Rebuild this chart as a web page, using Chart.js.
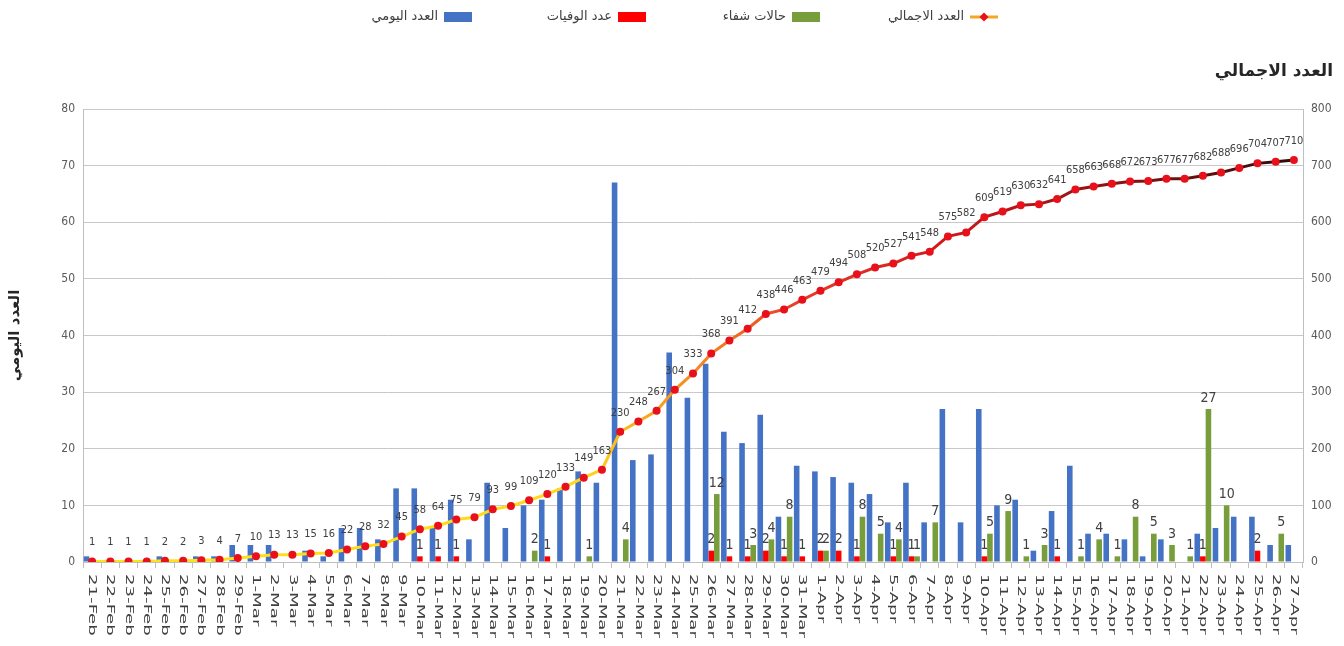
<!DOCTYPE html>
<html>
<head>
<meta charset="utf-8">
<script src="https://cdn.jsdelivr.net/npm/chart.js@4.4.1/dist/chart.umd.min.js"></script>
<style>
html,body{margin:0;padding:0;background:#ffffff;}
#wrap{width:1344px;height:646px;position:relative;}
</style>
</head>
<body>
<div id="wrap"><canvas id="c" width="1344" height="646"></canvas></div>
<script>
const categories = [
  '21-Feb','22-Feb','23-Feb','24-Feb','25-Feb','26-Feb','27-Feb','28-Feb','29-Feb',
  '1-Mar','2-Mar','3-Mar','4-Mar','5-Mar','6-Mar','7-Mar','8-Mar','9-Mar','10-Mar',
  '11-Mar','12-Mar','13-Mar','14-Mar','15-Mar','16-Mar','17-Mar','18-Mar','19-Mar','20-Mar',
  '21-Mar','22-Mar','23-Mar','24-Mar','25-Mar','26-Mar','27-Mar','28-Mar','29-Mar','30-Mar','31-Mar',
  '1-Apr','2-Apr','3-Apr','4-Apr','5-Apr','6-Apr','7-Apr','8-Apr','9-Apr','10-Apr',
  '11-Apr','12-Apr','13-Apr','14-Apr','15-Apr','16-Apr','17-Apr','18-Apr','19-Apr','20-Apr',
  '21-Apr','22-Apr','23-Apr','24-Apr','25-Apr','26-Apr','27-Apr'
];
const dailyCases = [
  1,0,0,0,1,0,1,1,3,
  3,3,0,2,1,6,6,4,13,13,6,11,4,14,6,10,11,13,16,14,67,18,19,37,29,35,23,21,26,8,17,
  16,15,14,12,7,14,7,27,7,27,10,11,2,9,17,5,5,4,1,4,0,5,6,8,8,3,3
];
const deaths = [
  0,0,0,0,0,0,0,0,0,
  0,0,0,0,0,0,0,0,0,1,1,1,0,0,0,0,1,0,0,0,0,0,0,0,0,2,1,1,2,1,1,
  2,2,1,0,1,1,0,0,0,1,0,0,0,1,0,0,0,0,0,0,0,1,0,0,2,0,0
];
const recovered = [
  0,0,0,0,0,0,0,0,0,
  0,0,0,0,0,0,0,0,0,0,0,0,0,0,0,2,0,0,1,0,4,0,0,0,0,12,0,3,4,8,0,
  2,0,8,5,4,1,7,0,0,5,9,1,3,0,1,4,1,8,5,3,1,27,10,0,0,5,0
];
const cumulative = [
  1,1,1,1,2,2,3,4,7,
  10,13,13,15,16,22,28,32,45,58,64,75,79,93,99,109,120,133,149,163,230,248,267,304,333,368,391,412,438,446,463,
  479,494,508,520,527,541,548,575,582,609,619,630,632,641,658,663,668,672,673,677,677,682,688,696,704,707,710
];
const leftTicks = {min: 0, max: 80, step: 10};
const rightTicks = {min: 0, max: 800, step: 100};
const seriesNames = ['العدد اليومي', 'عدد الوفيات', 'حالات شفاء', 'العدد الاجمالي'];
const leftTitle = 'العدد اليومي';
const rightTitle = 'العدد الاجمالي';

const FONT_NUM = '"DejaVu Sans Condensed", "Liberation Sans Narrow", "DejaVu Sans", sans-serif';
const FONT_AR = '"DejaVu Sans", sans-serif';
const COLORS = ['#4472C4', '#FF0000', '#789E3C'];

function lineGradient(context) {
  const chart = context.chart;
  const ca = chart.chartArea;
  if (!ca) return '#F5A623';
  const g = chart.ctx.createLinearGradient(ca.left, 0, ca.right, 0);
  g.addColorStop(0.00, '#FFE21C');
  g.addColorStop(0.41, '#FFD81A');
  g.addColorStop(0.46, '#F8A81E');
  g.addColorStop(0.52, '#F47A22');
  g.addColorStop(0.58, '#E8402A');
  g.addColorStop(0.70, '#D21A1A');
  g.addColorStop(0.86, '#861212');
  g.addColorStop(1.00, '#2A0A0A');
  return g;
}

const decorPlugin = {
  id: 'decor',
  afterDatasetsDraw(chart) {
    const ctx = chart.ctx;
    ctx.save();
    ctx.fillStyle = '#404040';
    ctx.textAlign = 'center';
    ctx.textBaseline = 'middle';
    ctx.font = '14px ' + FONT_NUM;
    [1, 2].forEach(di => {
      const meta = chart.getDatasetMeta(di);
      const data = chart.data.datasets[di].data;
      meta.data.forEach((el, i) => {
        if (!data[i]) return;
        ctx.fillText(String(data[i]), el.x, el.y - 11);
      });
    });
    ctx.font = '11px ' + FONT_NUM;
    const lm = chart.getDatasetMeta(3);
    const ld = chart.data.datasets[3].data;
    lm.data.forEach((pt, i) => {
      ctx.fillText(String(ld[i]), pt.x, pt.y - 19);
    });
    ctx.restore();
  },
  afterDraw(chart) {
    const ctx = chart.ctx;
    const xs = chart.scales.x;
    ctx.save();
    ctx.fillStyle = '#404040';
    ctx.font = '11px "DejaVu Sans", sans-serif';
    ctx.textAlign = 'left';
    ctx.textBaseline = 'middle';
    chart.data.labels.forEach((lab, i) => {
      const x = xs.getPixelForTick(i);
      ctx.save();
      ctx.translate(x, xs.top + 12);
      ctx.rotate(Math.PI / 2);
      ctx.scale(1.65, 1);
      ctx.fillText(lab, 0, 0);
      ctx.restore();
    });
    ctx.fillStyle = '#262626';
    ctx.font = 'bold 17px ' + FONT_AR;
    ctx.textAlign = 'right';
    ctx.textBaseline = 'middle';
    ctx.fillText(rightTitle, 1333, 72);
    const centers = [426, 600, 774, 952];
    ctx.font = '13px ' + FONT_AR;
    ctx.textBaseline = 'middle';
    chart.data.datasets.forEach((ds, i) => {
      const boxRight = centers[i] + 46;
      const boxLeft = boxRight - 28;
      const cy = 17;
      if (i < 3) {
        ctx.fillStyle = COLORS[i];
        ctx.fillRect(boxLeft, cy - 5, 28, 10);
      } else {
        ctx.strokeStyle = '#F5A623';
        ctx.lineWidth = 3;
        ctx.beginPath();
        ctx.moveTo(boxLeft, cy);
        ctx.lineTo(boxRight, cy);
        ctx.stroke();
        ctx.fillStyle = '#E8101A';
        const mx = (boxLeft + boxRight) / 2;
        ctx.beginPath();
        ctx.moveTo(mx, cy - 4.5);
        ctx.lineTo(mx + 4.5, cy);
        ctx.lineTo(mx, cy + 4.5);
        ctx.lineTo(mx - 4.5, cy);
        ctx.closePath();
        ctx.fill();
      }
      ctx.fillStyle = '#404040';
      ctx.textAlign = 'right';
      ctx.fillText(ds.label, boxLeft - 6, cy);
    });
    ctx.restore();
  }
};

const barCommon = {type: 'bar', yAxisID: 'y', categoryPercentage: 0.92, barPercentage: 1.0, borderWidth: 0};

new Chart(document.getElementById('c').getContext('2d'), {
  data: {
    labels: categories,
    datasets: [
      Object.assign({label: seriesNames[0], data: dailyCases, backgroundColor: COLORS[0]}, barCommon),
      Object.assign({label: seriesNames[1], data: deaths, backgroundColor: COLORS[1]}, barCommon),
      Object.assign({label: seriesNames[2], data: recovered, backgroundColor: COLORS[2]}, barCommon),
      {
        type: 'line', label: seriesNames[3], data: cumulative, yAxisID: 'y1', order: -1,
        borderColor: lineGradient, borderWidth: 3, tension: 0, fill: false,
        pointRadius: 4, pointBackgroundColor: '#E8101A', pointBorderWidth: 0, pointHoverRadius: 4
      }
    ]
  },
  options: {
    responsive: false,
    animation: false,
    devicePixelRatio: 1,
    layout: {padding: {top: 109, left: 0, right: 0, bottom: 0}},
    scales: {
      x: {
        type: 'category',
        grid: {display: true, drawOnChartArea: false, drawTicks: true, tickLength: 6, color: '#bfbfbf', offset: true},
        border: {display: true, color: '#bfbfbf'},
        ticks: {display: false},
        afterFit(s) { s.height = 84; }
      },
      y: {
        position: 'left', min: leftTicks.min, max: leftTicks.max,
        ticks: {stepSize: leftTicks.step, color: '#595959', font: {size: 12, family: FONT_NUM}, padding: 8},
        grid: {color: '#c8c8c8', drawTicks: false},
        border: {display: true, color: '#bfbfbf'},
        title: {display: true, text: leftTitle, color: '#262626', font: {size: 15, weight: 'bold', family: FONT_AR}, padding: {top: 6, bottom: 6}},
        afterFit(s) { s.width = 83; }
      },
      y1: {
        position: 'right', min: rightTicks.min, max: rightTicks.max,
        ticks: {stepSize: rightTicks.step, color: '#595959', font: {size: 12, family: FONT_NUM}, padding: 8},
        grid: {drawOnChartArea: false, drawTicks: false},
        border: {display: true, color: '#bfbfbf'},
        afterFit(s) { s.width = 41; }
      }
    },
    plugins: {
      legend: {display: false},
      tooltip: {enabled: false}
    }
  },
  plugins: [decorPlugin]
});
</script>
</body>
</html>
